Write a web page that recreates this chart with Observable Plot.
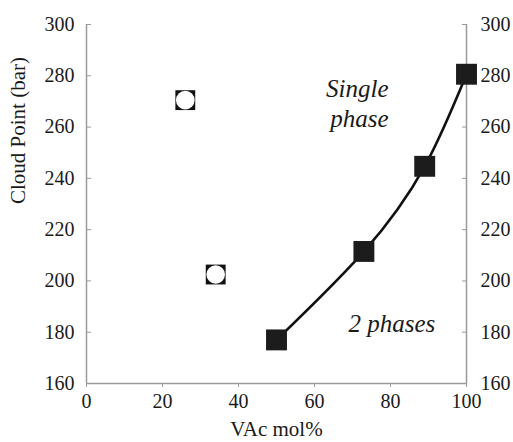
<!DOCTYPE html>
<html><head><meta charset="utf-8">
<script src="https://cdn.jsdelivr.net/npm/d3@7"></script>
<script src="https://cdn.jsdelivr.net/npm/@observablehq/plot@0.6"></script>
<style>body{margin:0;background:#fff}</style>
</head><body><div id="chart"></div>
<script>
const openX = [26, 34];
const openY = [270.5, 202.5];
const filledX = [50, 73, 89, 100];
const filledY = [177, 211.5, 244.7, 280.6];
const xTicks = [0, 20, 40, 60, 80, 100];
const yTicks = [160, 180, 200, 220, 240, 260, 280, 300];
const noteText = ["Single", "phase", "2 phases"];
const noteX = [79.5, 79.5, 91.8];
const noteY = [275, 263.3, 183.3];
const xLabel = "VAc mol%";
const yLabel = "Cloud Point (bar)";

const openPts = openX.map((x, i) => ({x, y: openY[i]}));
const filledPts = filledX.map((x, i) => ({x, y: filledY[i]}));
const notes = noteText.map((t, i) => ({t, x: noteX[i], y: noteY[i]}));

const axisGrey = "#9a9a9a";
const ink = "#1a1a1a";
const font = "Liberation Serif";

const chart = Plot.plot({
  width: 513,
  height: 442,
  marginLeft: 86,
  marginRight: 47,
  marginTop: 24,
  marginBottom: 59,
  style: {fontFamily: font, background: "#fff"},
  x: {domain: [0, 100]},
  y: {domain: [160, 300]},
  marks: [
    Plot.ruleX([0, 100], {stroke: axisGrey, strokeWidth: 1.5}),
    Plot.ruleY([160], {stroke: axisGrey, strokeWidth: 1.5}),
    Plot.axisY(yTicks, {anchor: "left", tickSize: -5, tickPadding: 17, stroke: axisGrey, fill: ink, fontSize: 20, fontFamily: font, label: null}),
    Plot.axisY(yTicks, {anchor: "right", tickSize: -5, tickPadding: 19, stroke: axisGrey, fill: ink, fontSize: 20, fontFamily: font, label: null}),
    Plot.axisX(xTicks, {anchor: "bottom", tickSize: 4, tickPadding: 6, stroke: axisGrey, fill: ink, fontSize: 20, fontFamily: font, label: null}),
    Plot.text([yLabel], {text: d => d, frameAnchor: "left", rotate: -90, dx: -68, fontSize: 21, fontFamily: font, fill: ink}),
    Plot.text([xLabel], {text: d => d, frameAnchor: "bottom", dy: 52, fontSize: 21, fontFamily: font, fill: ink}),
    Plot.line(filledPts, {x: "x", y: "y", curve: "natural", stroke: "#111", strokeWidth: 2.6}),
    Plot.dot(filledPts, {x: "x", y: "y", symbol: "square", r: 11.8, fill: "#1c1c1c", stroke: "none"}),
    Plot.dot(openPts, {x: "x", y: "y", symbol: "square", r: 11.2, fill: "#111", stroke: "none"}),
    Plot.dot(openPts, {x: "x", y: "y", r: 9.3, fill: "#fff", stroke: "none"}),
    Plot.text(notes, {x: "x", y: "y", text: "t", textAnchor: "end", fontSize: 25, fontStyle: "italic", fontFamily: font, fill: ink})
  ]
});
chart.setAttribute("font-family", font);
document.getElementById("chart").appendChild(chart);
</script>
</body></html>
